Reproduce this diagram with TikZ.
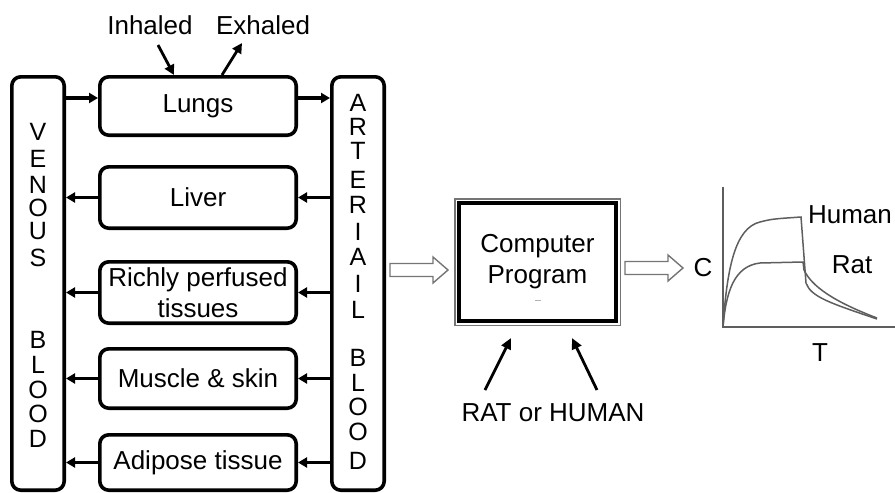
\documentclass[tikz,border=0pt]{standalone}
\usepackage{fontspec}
\setmainfont{Liberation Sans}
\usetikzlibrary{arrows.meta,calc}

\definecolor{curvegray}{HTML}{5E5E5E}
\definecolor{hollowgray}{HTML}{757575}

\tikzset{
  txt/.style={font=\fontsize{26}{31}\selectfont, inner sep=0pt, align=center},
  organ/.style={draw, line width=3.6pt, rounded corners=9pt, minimum width=196.4pt,
                inner sep=0pt, font=\fontsize{26}{31}\selectfont, align=center},
  column/.style={draw, line width=3.6pt, rounded corners=9pt, minimum width=52.4pt,
                 minimum height=413.4pt, inner sep=0pt},
  letter/.style={font=\fontsize{25}{25}\selectfont, inner sep=0pt,
                 text height=17.9pt, text depth=0pt},
  flow/.style={line width=3.2pt, -{Triangle[length=9pt,width=10pt]}},
  pointer/.style={line width=2.8pt, -{Triangle[length=11pt,width=10pt]}},
  hollow/.style={draw=hollowgray, line width=1.4pt, fill=white, line join=miter},
  curve/.style={draw=curvegray, line width=1.5pt},
}

% horizontal hollow block arrow from #1 to the tip #2
\newcommand{\blockarrow}[2]{%
  \path[hollow] let \p1=(#1), \p2=(#2) in
    (\x1,\y1+6.5pt) -- (\x2-15pt,\y1+6.5pt) -- (\x2-15pt,\y1+13pt) -- (\x2,\y1)
    -- (\x2-15pt,\y1-13pt) -- (\x2-15pt,\y1-6.5pt) -- (\x1,\y1-6.5pt) -- cycle;}

\begin{document}
\begin{tikzpicture}[x=1pt,y=-1pt]
\useasboundingbox (0,0) rectangle (895,493);
\clip (0,0) rectangle (895,493);

% blood columns
\node[column] (ven) at (38,283.5) {};
\node[column] (art) at (358,283.5) {};

\foreach \ch/\yy [count=\i] in {V/132,E/159,N/185,O/208,U/231,S/258,
                                B/340,L/365,O/390,O/414,D/439}
  \node[letter] (ven-\i) at (38,\yy) {\ch};
\foreach \ch/\yy [count=\i] in {A/103,R/127,T/151,E/180,R/205,I/232,A/257,I/284,L/310,
                                B/358,L/383,O/407,O/432,D/461}
  \node[letter] (art-\i) at (358,\yy) {\ch};

% organ compartments
\node[organ, minimum height=58.4pt] (lungs) at (198,106) {Lungs};
\node[organ, minimum height=61.4pt] (liver) at (198,197.5) {Liver};
\node[organ, minimum height=61.4pt] (rich) at (198,292.5) {Richly perfused\\tissues};
\node[organ, minimum height=59.4pt] (muscle) at (198,378.5) {Muscle \& skin};
\node[organ, minimum height=55.4pt] (fat) at (198,462.5) {Adipose tissue};

% blood flow
\coordinate (lungs-in) at ([yshift=8pt]lungs.west);
\coordinate (lungs-out) at ([yshift=8pt]lungs.east);
\draw[flow] (ven.east |- lungs-in) -- (lungs-in);
\draw[flow] (lungs-out) -- (art.west |- lungs-out);
\foreach \o in {liver,rich,muscle,fat}{
  \draw[flow] (art.west |- \o.east) -- (\o.east);
  \draw[flow] (\o.west) -- (ven.east |- \o.west);
}

% breathing
\node[txt] (inh) at (150,25) {Inhaled};
\node[txt] (exh) at (263,25) {Exhaled};
\coordinate (inh-tail) at (158,45);
\coordinate (exh-tip) at (242,43);
\draw[pointer, -{Triangle[length=10pt,width=10pt]}] (inh-tail) -- (lungs.north -| 174,0);
\draw[pointer, -{Triangle[length=10pt,width=10pt]}] (lungs.north -| 222,0) -- (exh-tip);

% computer program
\node[draw, line width=4pt, minimum width=157pt, minimum height=118pt,
      txt] (prog) at (537.5,262) {Computer\\Program};
\draw[hollowgray, line width=1.8pt]
  ([shift={(-2.4pt,2.4pt)}]prog.north west) rectangle ([shift={(2.4pt,-2.4pt)}]prog.south east);
\draw[gray!60, line width=1pt] ([shift={(-3pt,-38pt)}]prog.center) -- ([shift={(3pt,-38pt)}]prog.center);

\node[txt] (species) at (553,413) {RAT or HUMAN};
\coordinate (sp-a) at (485,390);
\coordinate (sp-b) at (597,390);
\draw[pointer] (sp-a) -- ([shift={(-26.5pt,-15pt)}]prog.south);
\draw[pointer] (sp-b) -- ([shift={(34.5pt,-15pt)}]prog.south);

% block arrows
\coordinate (a1s) at (390,270);
\coordinate (a1e) at (448,270);
\blockarrow{a1s}{a1e}
\coordinate (a2s) at (625,268);
\coordinate (a2e) at (683,268);
\blockarrow{a2s}{a2e}

% concentration-time plot
\coordinate (o) at (723,327);
\coordinate (ytop) at (723,187);
\coordinate (xend) at (895,327);
\draw[curve] (ytop) -- (o) -- (xend);
\node[txt] (clab) at (703,268) {C};
\node[txt] (tlab) at (820,353) {T};
\node[txt] (hlab) at (850,215) {Human};
\node[txt] (rlab) at (852,265) {Rat};

\draw[curve] (o) .. controls (727,268) and (735,228) .. (760,222)
  .. controls (772,219) .. (801,217) -- (806,283)
  .. controls (811,297) and (830,303) .. (877,319);
\draw[curve] (o) .. controls (726,292) and (734,266) .. (760,263)
  -- (803,262) -- (804,270)
  .. controls (812,287) and (835,302) .. (877,318);
\end{tikzpicture}
\end{document}
